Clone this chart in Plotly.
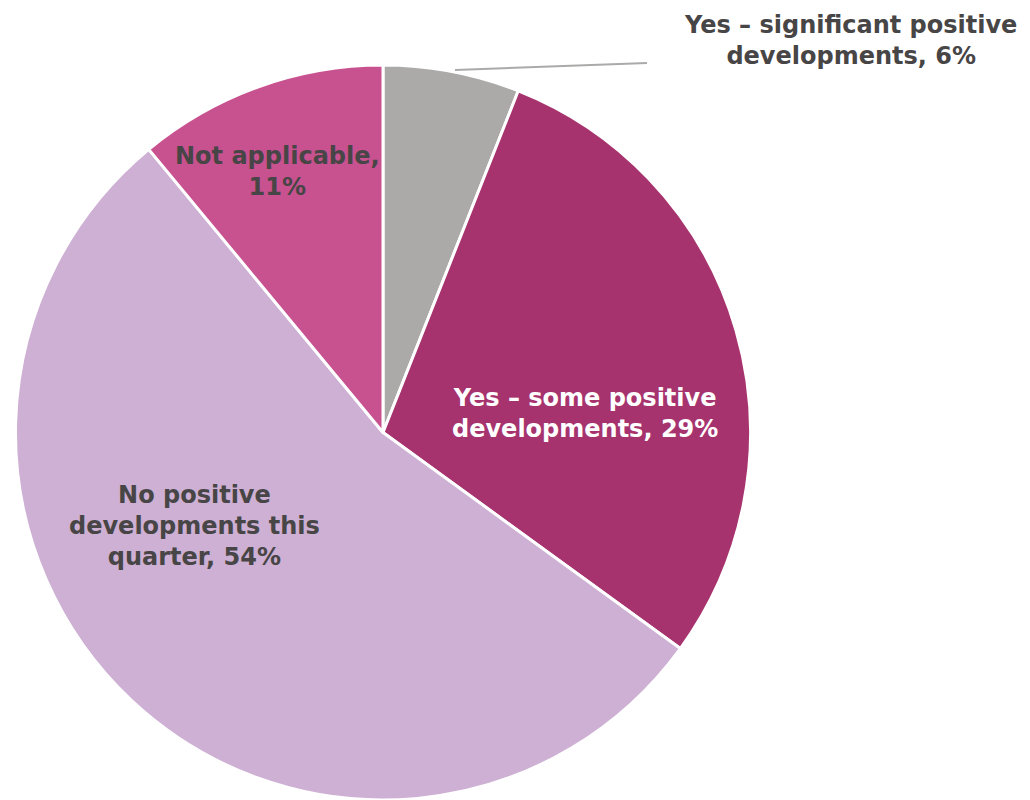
import plotly.graph_objects as go

labels = ["Yes – significant positive developments", "Yes – some positive developments",
          "No positive developments this quarter", "Not applicable"]
values = [6, 29, 54, 11]
colors = ["#ABAAA9", "#A6336E", "#CDB0D3", "#C8528F"]
# display label lines (wrapped as in reference)
label_lines = [["Yes – significant positive", "developments, {}%"],
               ["Yes – some positive", "developments, {}%"],
               ["No positive", "developments this", "quarter, {}%"],
               ["Not applicable,", "{}%"]]
text_colors = ["#474545", "#FFFFFF", "#474545", "#474545"]

W, H = 1030, 800
# label centre positions in pixels (layout)
label_pos = [(850, 40), (585, 414), (194, 526), (277, 171)]

fig = go.Figure(go.Pie(
    labels=labels, values=values, sort=False, direction="clockwise", rotation=0,
    marker=dict(colors=colors, line=dict(color="white", width=3)),
    textinfo="none", hoverinfo="label+percent",
    domain=dict(x=[12 / W, 754 / W], y=[0, 1 - 65 / H]),
    showlegend=False,
))

for lines, v, c, (px, py) in zip(label_lines, values, text_colors, label_pos):
    txt = "<br>".join(l.format(v) for l in lines)
    fig.add_annotation(text=txt, x=px / W, y=1 - py / H, xref="paper", yref="paper",
                       xanchor="center", yanchor="middle", showarrow=False, align="center",
                       font=dict(family="DejaVu Sans", size=24, color=c, weight="bold"))

# leader line for the small slice
fig.add_shape(type="line", xref="paper", yref="paper",
              x0=455 / W, y0=1 - 70 / H, x1=647 / W, y1=1 - 63 / H,
              line=dict(color="#ABAAA9", width=2))

fig.update_layout(width=W, height=H, margin=dict(l=0, r=0, t=0, b=0),
                  paper_bgcolor="white", plot_bgcolor="white")
fig.write_html("out.html")
